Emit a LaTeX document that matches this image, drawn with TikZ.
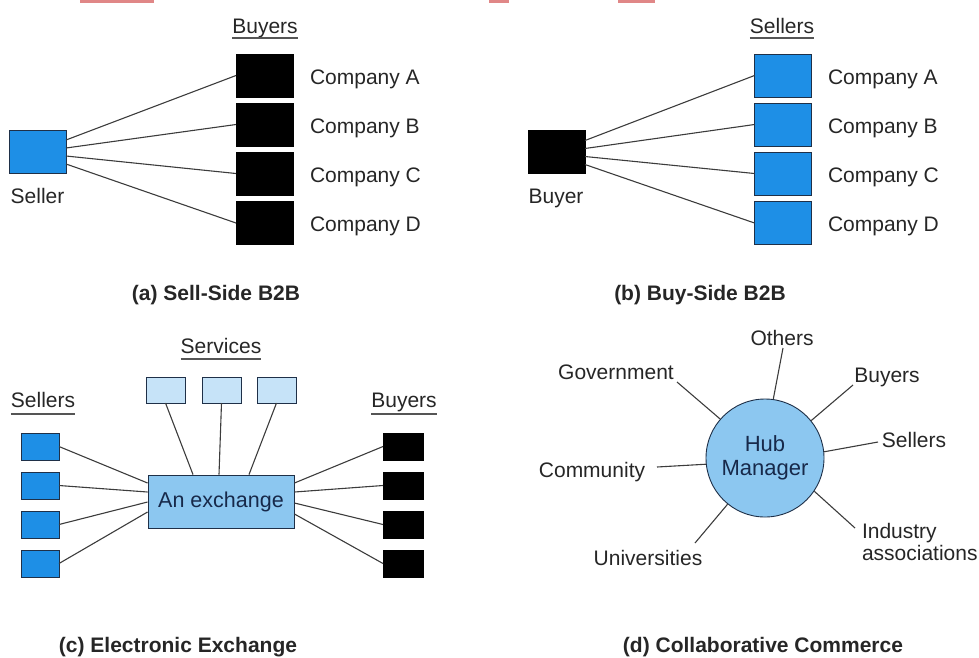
\documentclass[tikz,border=0pt]{standalone}
\usepackage{fontspec}
\setmainfont{Liberation Sans}
\usetikzlibrary{calc}

\definecolor{brightblue}{HTML}{1E8FE6}
\definecolor{paleblue}{HTML}{C6E3F8}
\definecolor{midblue}{HTML}{8CC7F0}
\definecolor{edge}{HTML}{1F3048}
\definecolor{ink}{HTML}{262626}
\definecolor{navy}{HTML}{17294A}
\definecolor{linkred}{HTML}{E08787}
\definecolor{rulegray}{HTML}{555555}

\tikzset{
  txt/.style={font=\fontsize{21}{24}\selectfont, text=ink, inner sep=0pt, outer sep=0pt},
  capt/.style={font=\fontsize{21}{24}\selectfont\bfseries, text=ink, inner sep=0pt},
  bigbox/.style={draw=edge, line width=0.9pt, minimum width=57pt, minimum height=43pt, inner sep=0pt, outer sep=0pt},
  smallbox/.style={draw=edge, line width=0.9pt, minimum width=38pt, minimum height=27pt, inner sep=0pt, outer sep=0pt},
  blackbox/.style={fill=black, draw=black},
  bluebox/.style={fill=brightblue},
  conn/.style={draw=ink!90, line width=1.1pt},
  uline/.style={draw=rulegray, line width=1.6pt},
}

\begin{document}
\begin{tikzpicture}[x=1pt, y=-1pt]
\useasboundingbox (0,0) rectangle (979,657);

% small red bars cut off at the top edge
\fill[linkred] (80,0) rectangle (154,2.5);
\fill[linkred] (489,0) rectangle (509,2.5);
\fill[linkred] (618,0) rectangle (655,2.5);

% ---------------- (a) Sell-Side B2B ----------------
\node[bigbox, bluebox] (sa) at (37.5,151.5) {};
\node[txt, anchor=base] (sal) at (37.5,203) {Seller};
\node[txt, anchor=base] (bh) at (265,33) {Buyers};
\draw[uline] ([yshift=-5pt]bh.base west) -- ([yshift=-5pt]bh.base east);
\foreach \i/\c/\yy in {1/A/75.5, 2/B/124.5, 3/C/173.5, 4/D/223} {
  \node[bigbox, blackbox] (ba\i) at (264.5,\yy) {};
  \node[txt, anchor=base west] (bal\i) at (310,\yy+8.5) {Company \c};
}
\draw[conn] ([yshift=11.5pt]sa.east) -- (ba1.west);
\draw[conn] ([yshift=3.5pt]sa.east) -- (ba2.west);
\draw[conn] ([yshift=-4.5pt]sa.east) -- (ba3.west);
\draw[conn] ([yshift=-12.5pt]sa.east) -- (ba4.west);
\node[capt, anchor=base] (capa) at (216,300) {(a) Sell-Side B2B};

% ---------------- (b) Buy-Side B2B ----------------
\node[bigbox, blackbox] (bb) at (556.5,152) {};
\node[txt, anchor=base] (bbl) at (556,203) {Buyer};
\node[txt, anchor=base] (sh) at (782,33) {Sellers};
\draw[uline] ([yshift=-5pt]sh.base west) -- ([yshift=-5pt]sh.base east);
\foreach \i/\c/\yy in {1/A/75.5, 2/B/124.5, 3/C/173.5, 4/D/223} {
  \node[bigbox, bluebox] (sb\i) at (783,\yy) {};
  \node[txt, anchor=base west] (sbl\i) at (828,\yy+8.5) {Company \c};
}
\draw[conn] ([yshift=11.5pt]bb.east) -- (sb1.west);
\draw[conn] ([yshift=3.5pt]bb.east) -- (sb2.west);
\draw[conn] ([yshift=-4.5pt]bb.east) -- (sb3.west);
\draw[conn] ([yshift=-12.5pt]bb.east) -- (sb4.west);
\node[capt, anchor=base] (capb) at (700,300) {(b) Buy-Side B2B};

% ---------------- (c) Electronic Exchange ----------------
\node[draw=edge, line width=0.9pt, fill=midblue, minimum width=146pt, minimum height=53pt,
      inner sep=0pt, font=\fontsize{21.5}{24}\selectfont, text=navy] (ex) at (221,501.5) {An exchange};

\node[txt, anchor=base] (svh) at (221,353) {Services};
\draw[uline] ([yshift=-6pt]svh.base west) -- ([yshift=-6pt]svh.base east);
\foreach \i/\xx in {1/165.5, 2/221.5, 3/276.5} {
  \node[smallbox, fill=paleblue, minimum width=39pt, minimum height=26pt] (sv\i) at (\xx,390) {};
}
\draw[conn] (sv1.south) -- ([xshift=-28pt]ex.north);
\draw[conn] (sv2.south) -- ([xshift=-2pt]ex.north);
\draw[conn] (sv3.south) -- ([xshift=28pt]ex.north);

\node[txt, anchor=base] (slh) at (43,407) {Sellers};
\draw[uline] ([yshift=-7pt]slh.base west) -- ([yshift=-7pt]slh.base east);
\node[txt, anchor=base] (byh) at (404,407) {Buyers};
\draw[uline] ([yshift=-7pt]byh.base west) -- ([yshift=-7pt]byh.base east);
\foreach \i/\yy in {1/446.5, 2/485.5, 3/524.5, 4/563.5} {
  \node[smallbox, bluebox] (sc\i) at (40,\yy) {};
  \node[smallbox, blackbox, minimum width=40pt] (bc\i) at (403,\yy) {};
}
\draw[conn] (sc1.east) -- ([yshift=18.5pt]ex.west);
\draw[conn] (sc2.east) -- ([yshift=9.5pt]ex.west);
\draw[conn] (sc3.east) -- ([yshift=-0.5pt]ex.west);
\draw[conn] (sc4.east) -- ([yshift=-10.5pt]ex.west);
\draw[conn] ([yshift=18.5pt]ex.east) -- (bc1.west);
\draw[conn] ([yshift=9.5pt]ex.east) -- (bc2.west);
\draw[conn] ([yshift=-1.5pt]ex.east) -- (bc3.west);
\draw[conn] ([yshift=-12.5pt]ex.east) -- (bc4.west);
\node[capt, anchor=base] (capc) at (178,652) {(c) Electronic Exchange};

% ---------------- (d) Collaborative Commerce ----------------
\node[circle, draw=edge, line width=0.9pt, fill=midblue, minimum size=118pt, inner sep=0pt,
      align=center, font=\fontsize{22}{24}\selectfont, text=navy] (hub) at (765,458) {Hub\\Manager};

\node[txt, anchor=base] (oth) at (782,345) {Others};
\node[txt, anchor=base] (gov) at (616,379) {Government};
\node[txt, anchor=base] (buy) at (887,382) {Buyers};
\node[txt, anchor=base] (sel) at (914,447) {Sellers};
\node[txt, anchor=base] (com) at (592,477) {Community};
\node[txt, anchor=base] (uni) at (648,565) {Universities};
\node[txt, anchor=base west, align=left, font=\fontsize{21}{22}\selectfont] (ind) at (862,560) {Industry\\associations};

\coordinate (othE) at (783,348);
\coordinate (govE) at (677,382);
\coordinate (buyE) at (853,385);
\coordinate (selE) at (878,442);
\coordinate (comE) at (657,467);
\coordinate (uniE) at (695,543);
\coordinate (indE) at (855,528);

\draw[conn] (othE) -- (hub.82);
\draw[conn] (govE) -- (hub.139);
\draw[conn] (buyE) -- (hub.39);
\draw[conn] (selE) -- (hub.6);
\draw[conn] (comE) -- (hub.186);
\draw[conn] (uniE) -- (hub.231);
\draw[conn] (indE) -- (hub.-34);
\node[capt, anchor=base] (capd) at (763,652) {(d) Collaborative Commerce};
\end{tikzpicture}
\end{document}
